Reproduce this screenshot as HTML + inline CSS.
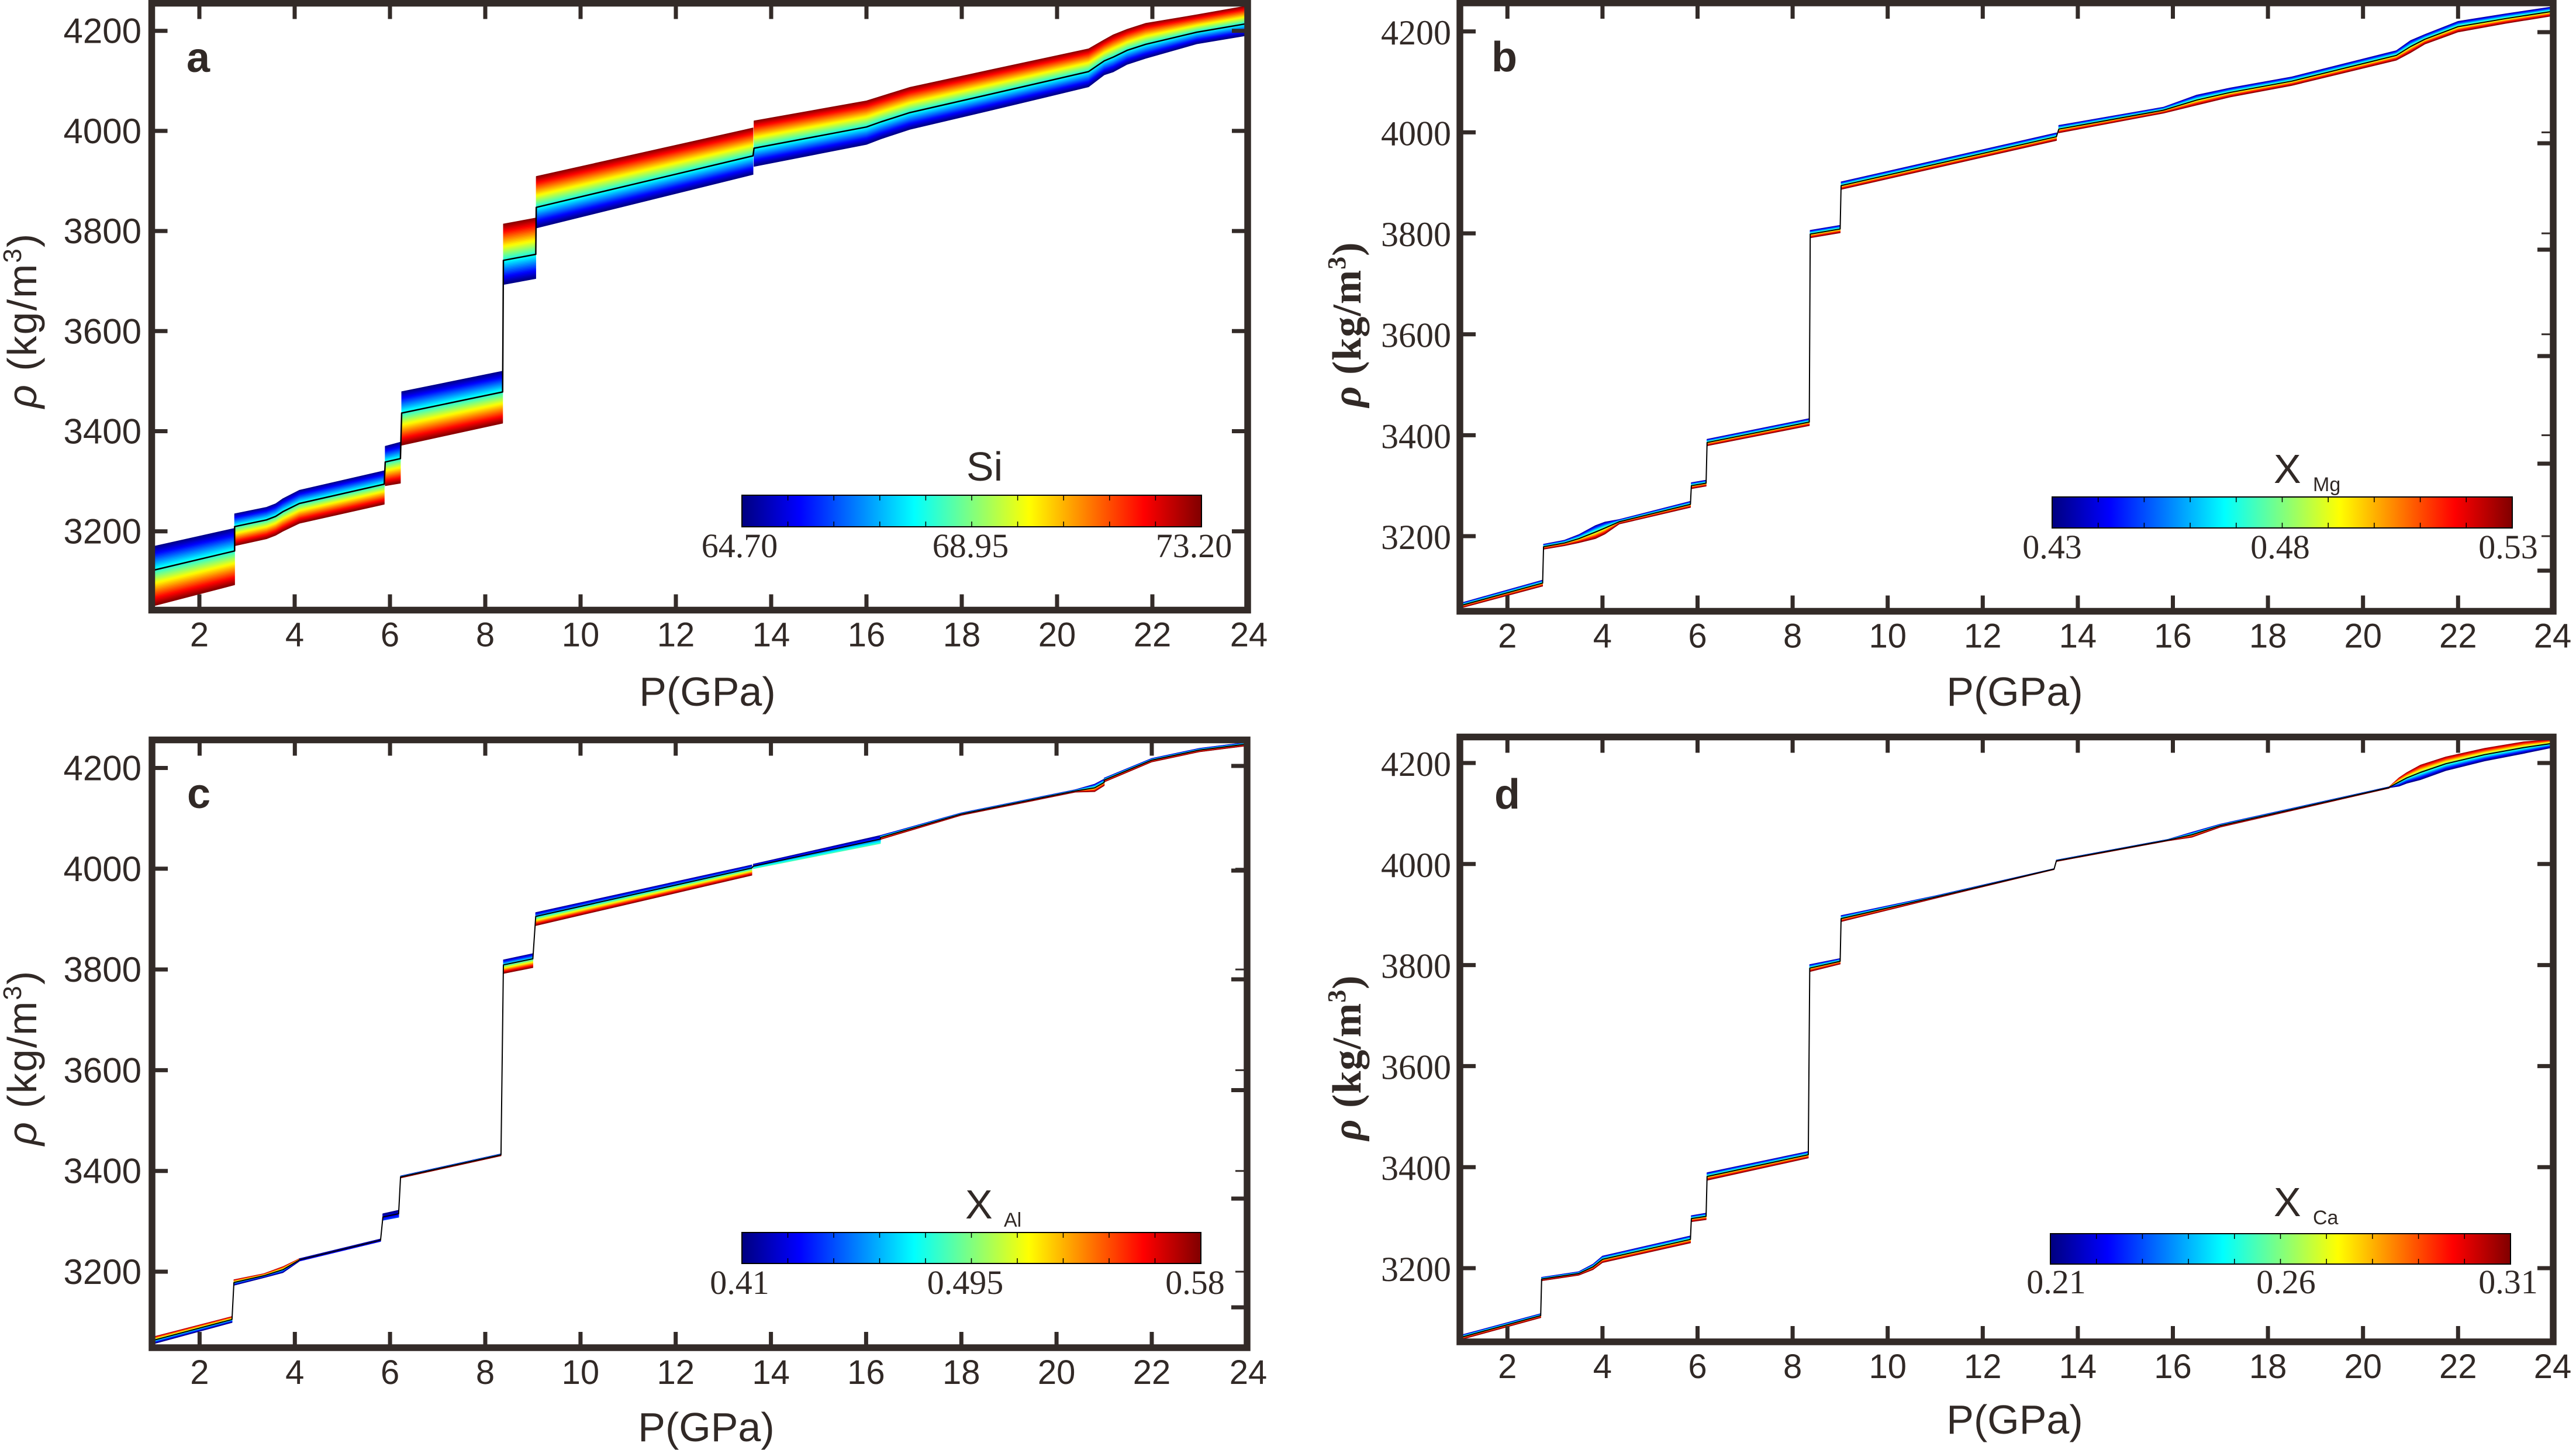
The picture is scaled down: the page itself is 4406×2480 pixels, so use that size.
<!DOCTYPE html>
<html><head><meta charset="utf-8">
<style>
html,body{margin:0;padding:0;background:#fff;}
svg{display:block;}
.ax{font-family:"Liberation Sans",Arial,sans-serif;fill:#312926;}
.sr{font-family:"Liberation Serif","Times New Roman",serif;fill:#312926;}
.fr{fill:none;stroke:#332b28;stroke-width:11.5;}
.tk{fill:none;stroke:#332b28;stroke-width:7;}
.tn{fill:none;stroke:#332b28;stroke-width:3;}
</style></head><body>
<svg id="s" width="4406" height="2480" viewBox="0 0 4406 2480" xmlns="http://www.w3.org/2000/svg">
<defs>
<linearGradient id="jet" x1="0" x2="1" y1="0" y2="0">
<stop offset="0" stop-color="#000080"/>
<stop offset="0.125" stop-color="#0000ff"/>
<stop offset="0.375" stop-color="#00ffff"/>
<stop offset="0.625" stop-color="#ffff00"/>
<stop offset="0.875" stop-color="#ff0000"/>
<stop offset="1" stop-color="#800000"/>
</linearGradient>
</defs>
<rect width="4406" height="2480" fill="#fff"/>
<g id="data"></g>

<!-- Frames -->
<rect class="fr" x="259.5" y="5.5" width="1874.5" height="1038"/>
<rect class="fr" x="2497" y="5" width="1870" height="1040.5"/>
<rect class="fr" x="260" y="1265.5" width="1873" height="1039.5"/>
<rect class="fr" x="2497" y="1260.5" width="1870" height="1034.5"/>

<!-- Ticks panel a -->
<path class="tk" d="M341 5.5V32.5M504 5.5V32.5M667 5.5V32.5M830 5.5V32.5M993 5.5V32.5M1156 5.5V32.5M1319 5.5V32.5M1482 5.5V32.5M1645 5.5V32.5M1808 5.5V32.5M1971 5.5V32.5
M341 1043.5V1016.5M504 1043.5V1016.5M667 1043.5V1016.5M830 1043.5V1016.5M993 1043.5V1016.5M1156 1043.5V1016.5M1319 1043.5V1016.5M1482 1043.5V1016.5M1645 1043.5V1016.5M1808 1043.5V1016.5M1971 1043.5V1016.5
M259.5 52.7H286.5M259.5 223.9H286.5M259.5 395.1H286.5M259.5 566.3H286.5M259.5 737.5H286.5M259.5 908.7H286.5
M2134 52.7H2107M2134 223.9H2107M2134 395.1H2107M2134 566.3H2107M2134 737.5H2107M2134 908.7H2107"/>
<!-- Ticks panel b -->
<path class="tk" d="M2578.3 5V32M2740.9 5V32M2903.5 5V32M3066.1 5V32M3228.7 5V32M3391.3 5V32M3553.9 5V32M3716.5 5V32M3879.1 5V32M4041.7 5V32M4204.3 5V32
M2578.3 1045.5V1018.5M2740.9 1045.5V1018.5M2903.5 1045.5V1018.5M3066.1 1045.5V1018.5M3228.7 1045.5V1018.5M3391.3 1045.5V1018.5M3553.9 1045.5V1018.5M3716.5 1045.5V1018.5M3879.1 1045.5V1018.5M4041.7 1045.5V1018.5M4204.3 1045.5V1018.5
M2497 53.8H2524M2497 226.4H2524M2497 399.1H2524M2497 571.7H2524M2497 744.4H2524M2497 917H2524
M4367 55H4340M4367 245H4340M4367 427H4340M4367 609H4340M4367 793H4340M4367 976H4340"/>
<path class="tn" d="M4367 226.4H4347M4367 399.1H4347M4367 571.7H4347M4367 744.4H4347M4367 917H4347"/>
<!-- Ticks panel c -->
<path class="tk" d="M341.4 1265.5V1292.5M504.3 1265.5V1292.5M667.1 1265.5V1292.5M830 1265.5V1292.5M992.9 1265.5V1292.5M1155.7 1265.5V1292.5M1318.6 1265.5V1292.5M1481.4 1265.5V1292.5M1644.3 1265.5V1292.5M1807.1 1265.5V1292.5M1970 1265.5V1292.5
M341.4 2305V2278M504.3 2305V2278M667.1 2305V2278M830 2305V2278M992.9 2305V2278M1155.7 2305V2278M1318.6 2305V2278M1481.4 2305V2278M1644.3 2305V2278M1807.1 2305V2278M1970 2305V2278
M260 1313.5H287M260 1485.8H287M260 1658.1H287M260 1830.4H287M260 2002.7H287M260 2175H287
M2133 1310H2106M2133 1489H2106M2133 1675H2106M2133 1864.5H2106M2133 2050H2106M2133 2236H2106"/>
<path class="tn" d="M2133 1485.8H2113M2133 1658.1H2113M2133 1830.4H2113M2133 2002.7H2113M2133 2175H2113"/>
<!-- Ticks panel d -->
<path class="tk" d="M2578.3 1260.5V1287.5M2740.9 1260.5V1287.5M2903.5 1260.5V1287.5M3066.1 1260.5V1287.5M3228.7 1260.5V1287.5M3391.3 1260.5V1287.5M3553.9 1260.5V1287.5M3716.5 1260.5V1287.5M3879.1 1260.5V1287.5M4041.7 1260.5V1287.5M4204.3 1260.5V1287.5
M2578.3 2295V2268M2740.9 2295V2268M2903.5 2295V2268M3066.1 2295V2268M3228.7 2295V2268M3391.3 2295V2268M3553.9 2295V2268M3716.5 2295V2268M3879.1 2295V2268M4041.7 2295V2268M4204.3 2295V2268
M2497 1305H2524M2497 1477.8H2524M2497 1650.6H2524M2497 1823.4H2524M2497 1996.2H2524M2497 2169H2524
M4367 1305H4340M4367 1477.8H4340M4367 1650.6H4340M4367 1823.4H4340M4367 1996.2H4340M4367 2169H4340"/>

<!-- Y tick labels -->
<g class="ax" font-size="60" text-anchor="end">
<text x="242" y="73.7">4200</text><text x="242" y="244.9">4000</text><text x="242" y="416.1">3800</text><text x="242" y="587.3">3600</text><text x="242" y="758.5">3400</text><text x="242" y="929.7">3200</text>
<text x="242" y="1334.5">4200</text><text x="242" y="1506.8">4000</text><text x="242" y="1679.1">3800</text><text x="242" y="1851.4">3600</text><text x="242" y="2023.7">3400</text><text x="242" y="2196">3200</text>
</g>
<g class="sr" font-size="60" text-anchor="end">
<text x="2482" y="75.8">4200</text><text x="2482" y="248.4">4000</text><text x="2482" y="421.1">3800</text><text x="2482" y="593.7">3600</text><text x="2482" y="766.4">3400</text><text x="2482" y="939">3200</text>
<text x="2482" y="1327">4200</text><text x="2482" y="1499.8">4000</text><text x="2482" y="1672.6">3800</text><text x="2482" y="1845.4">3600</text><text x="2482" y="2018.2">3400</text><text x="2482" y="2191">3200</text>
</g>

<!-- X tick labels -->
<g class="ax" font-size="58" text-anchor="middle">
<text x="341" y="1105.5">2</text><text x="504" y="1105.5">4</text><text x="667" y="1105.5">6</text><text x="830" y="1105.5">8</text><text x="993" y="1105.5">10</text><text x="1156" y="1105.5">12</text><text x="1319" y="1105.5">14</text><text x="1482" y="1105.5">16</text><text x="1645" y="1105.5">18</text><text x="1808" y="1105.5">20</text><text x="1971" y="1105.5">22</text><text x="2136" y="1105.5">24</text>
<text x="2578.3" y="1107.5">2</text><text x="2740.9" y="1107.5">4</text><text x="2903.5" y="1107.5">6</text><text x="3066.1" y="1107.5">8</text><text x="3228.7" y="1107.5">10</text><text x="3391.3" y="1107.5">12</text><text x="3553.9" y="1107.5">14</text><text x="3716.5" y="1107.5">16</text><text x="3879.1" y="1107.5">18</text><text x="4041.7" y="1107.5">20</text><text x="4204.3" y="1107.5">22</text><text x="4366" y="1107.5">24</text>
<text x="341.4" y="2367">2</text><text x="504.3" y="2367">4</text><text x="667.1" y="2367">6</text><text x="830" y="2367">8</text><text x="992.9" y="2367">10</text><text x="1155.7" y="2367">12</text><text x="1318.6" y="2367">14</text><text x="1481.4" y="2367">16</text><text x="1644.3" y="2367">18</text><text x="1807.1" y="2367">20</text><text x="1970" y="2367">22</text><text x="2135" y="2367">24</text>
<text x="2578.3" y="2357">2</text><text x="2740.9" y="2357">4</text><text x="2903.5" y="2357">6</text><text x="3066.1" y="2357">8</text><text x="3228.7" y="2357">10</text><text x="3391.3" y="2357">12</text><text x="3553.9" y="2357">14</text><text x="3716.5" y="2357">16</text><text x="3879.1" y="2357">18</text><text x="4041.7" y="2357">20</text><text x="4204.3" y="2357">22</text><text x="4366" y="2357">24</text>
</g>

<!-- X axis titles -->
<g class="ax" font-size="70" text-anchor="middle">
<text x="1210" y="1207">P(GPa)</text>
<text x="3446" y="1207">P(GPa)</text>
<text x="1208" y="2465">P(GPa)</text>
<text x="3446" y="2452">P(GPa)</text>
</g>

<!-- Y axis titles -->
<text class="ax" font-size="70" letter-spacing="2" text-anchor="middle" transform="translate(62,548) rotate(-90)"><tspan font-style="italic">ρ</tspan> (kg/m<tspan font-size="44" dy="-26">3</tspan><tspan dy="26">)</tspan></text>
<text class="ax" font-size="70" letter-spacing="2" text-anchor="middle" transform="translate(62,1809) rotate(-90)"><tspan font-style="italic">ρ</tspan> (kg/m<tspan font-size="44" dy="-26">3</tspan><tspan dy="26">)</tspan></text>
<text class="sr" font-size="70" font-weight="bold" letter-spacing="1" text-anchor="middle" transform="translate(2327,555) rotate(-90)"><tspan font-style="italic">ρ</tspan> (kg/m<tspan font-size="44" dy="-26">3</tspan><tspan dy="26">)</tspan></text>
<text class="sr" font-size="70" font-weight="bold" letter-spacing="1" text-anchor="middle" transform="translate(2327,1809) rotate(-90)"><tspan font-style="italic">ρ</tspan> (kg/m<tspan font-size="44" dy="-26">3</tspan><tspan dy="26">)</tspan></text>

<!-- Panel letters -->
<g class="ax" font-size="72" font-weight="bold">
<text x="319" y="123">a</text>
<text x="2551" y="122">b</text>
<text x="320" y="1382">c</text>
<text x="2556" y="1383">d</text>
</g>

<!-- Colorbars -->
<rect x="1269" y="847" width="786" height="54" fill="url(#jet)" stroke="#000" stroke-width="2"/>
<rect x="3510" y="850" width="787" height="53" fill="url(#jet)" stroke="#000" stroke-width="2"/>
<rect x="1269" y="2108" width="785" height="53" fill="url(#jet)" stroke="#000" stroke-width="2"/>
<rect x="3507" y="2110" width="787" height="52" fill="url(#jet)" stroke="#000" stroke-width="2"/>
<g id="cbt"></g>

<g class="ax" font-size="70">
<text x="1684" y="822" text-anchor="middle">Si</text>
<text x="3889" y="826">X</text><text x="3956" y="840" font-size="34">Mg</text>
<text x="1651" y="2084">X</text><text x="1717" y="2098" font-size="34">Al</text>
<text x="3889" y="2080">X</text><text x="3956" y="2094" font-size="34">Ca</text>
</g>
<g class="sr" font-size="58" text-anchor="middle">
<text x="1265" y="953">64.70</text><text x="1660" y="953">68.95</text><text x="2042" y="953">73.20</text>
<text x="3510" y="955">0.43</text><text x="3900" y="955">0.48</text><text x="4290" y="955">0.53</text>
<text x="1265" y="2213">0.41</text><text x="1651" y="2213">0.495</text><text x="2044" y="2213">0.58</text>
<text x="3517" y="2212">0.21</text><text x="3910" y="2212">0.26</text><text x="4290" y="2212">0.31</text>
</g>
</svg>
<script>
(function(){
function jet(t){
  var c=function(v){return Math.round(255*Math.max(0,Math.min(1,v)));};
  return 'rgb('+c(Math.min(4*t-1.5,-4*t+4.5))+','+c(Math.min(4*t-0.5,-4*t+3.5))+','+c(Math.min(4*t+0.5,-4*t+2.5))+')';
}
var g=document.getElementById('data');
function draw(m,segs,cf,cw){
  var X=function(p){return (m.x0+(p-1)*m.sx).toFixed(1);};
  var Y=function(r){return (m.y0+(4200-r)*m.sy).toFixed(1);};
  var center=[],html='';
  segs.forEach(function(s){
    var tt=s.t?s.t[0]:0,tb=s.t?s.t[1]:1,N=40;
    for(var i=0;i<N;i++){
      var f0=i/N,f1=(i+1)/N,t=tt+(tb-tt)*(f0+f1)/2;
      var up=s.p.map(function(q){return X(q[0])+','+Y(q[1]+(q[2]-q[1])*f0);});
      var lo=s.p.slice().reverse().map(function(q){return X(q[0])+','+Y(q[1]+(q[2]-q[1])*f1);});
      var col=jet(t);
      html+='<path d="M'+up.join('L')+'L'+lo.join('L')+'Z" fill="'+col+'" stroke="'+col+'" stroke-width="1"/>';
    }
    var f;
    if(s.f!==undefined){f=s.f;}
    else{var c=(s.c!==undefined)?s.c:cf; f=(c-tt)/(tb-tt); f=Math.max(0,Math.min(1,f));}
    s.p.forEach(function(q){center.push(X(q[0])+','+Y(q[1]+(q[2]-q[1])*f));});
  });
  html+='<polyline points="'+center.join(' ')+'" fill="none" stroke="#000" stroke-width="'+cw+'" stroke-linejoin="round"/>';
  g.insertAdjacentHTML('beforeend',html);
}
var A={x0:259.5,sx:81.5,y0:52.7,sy:0.856};
var B={x0:2497,sx:81.3,y0:53.8,sy:0.8632};
var C={x0:260,sx:81.43,y0:1313.5,sy:0.8615};
var D={x0:2497,sx:81.3,y0:1305,sy:0.864};

draw(A,[
{p:[[1,3169,3050],[2.74,3206,3093]]},
{p:[[2.74,3235,3171],[3.41,3248,3185],[3.6,3255,3192],[3.75,3265,3200],[4.1,3282,3216],[5.88,3321,3254]]},
{p:[[5.9,3370,3291],[6.22,3378,3296]]},
{p:[[6.245,3479,3372],[8.365,3520,3416]]},
{p:[[8.38,3814,3693],[9.06,3826,3705]],t:[1,0]},
{p:[[9.07,3909,3806],[13.62,4006,3913]],t:[1,0]},
{p:[[13.64,4020,3929],[16.0,4060,3973],[16.3,4069,3984],[16.91,4087,4003],[18.56,4121,4040],[20.66,4164,4088],[20.99,4182,4112],[21.18,4192,4118],[21.47,4203,4133],[21.86,4215,4145],[22.93,4232,4174],[24,4250,4191]],t:[1,0]}
],0.4,2.5);

draw(B,[
{p:[[1,3067,3057],[2.74,3113,3101]]},
{p:[[2.76,3184,3174],[3.2,3192,3181],[3.5,3203,3187],[3.85,3221,3195],[4.05,3228,3204],[4.35,3233,3224],[5.85,3269,3257]]},
{p:[[5.87,3306,3294],[6.18,3311,3299]]},
{p:[[6.2,3392,3379],[8.35,3433,3419]]},
{p:[[8.37,3806,3791],[9.0,3816,3801]]},
{p:[[9.02,3902,3887],[13.55,3999,3984]]},
{p:[[13.6,4014,3999],[15.8,4050,4038],[16.5,4074,4054],[17.2,4088,4070],[18.5,4110,4093],[20.7,4162,4143],[21.0,4182,4158],[21.3,4194,4175],[22,4220,4199],[23,4235,4216],[24,4249,4231]]}
],0.5,2);

draw(C,[
{p:[[1,3070,3056],[2.68,3111,3099]],t:[1,0]},
{p:[[2.72,3184,3173],[3.35,3196,3188],[3.75,3210,3198],[4.1,3226,3221]],t:[1,0]},
{p:[[4.1,3226,3221],[5.8,3265,3260]],t:[0.02,0.12],f:0.5},
{p:[[5.85,3315,3302],[6.18,3322,3308]],t:[0,0.18],f:0.5},
{p:[[6.22,3390,3386],[8.33,3434,3430]]},
{p:[[8.38,3819,3792],[9.0,3831.5,3803.6]],c:0.37},
{p:[[9.06,3913,3887],[13.6,4007.5,3987]],c:0.3},
{p:[[13.63,4009,4000],[16.3,4066,4050]],t:[0,0.45],f:0.45},
{p:[[16.3,4066,4058],[18,4111,4106],[20.4,4157,4152]]},
{p:[[20.4,4157,4152],[20.8,4168,4153],[21.0,4178,4165]]},
{p:[[21.0,4180,4172],[22,4219,4212],[23,4239,4232],[24,4251,4244]]}
],0.5,2);

draw(D,[
{p:[[1,3067,3058],[2.7,3110,3102]]},
{p:[[2.72,3182,3175],[3.5,3193,3186],[3.8,3208,3197],[4.0,3224,3211],[5.85,3264,3250]]},
{p:[[5.87,3304,3292],[6.18,3309,3296]]},
{p:[[6.2,3389,3374],[8.33,3431,3418]]},
{p:[[8.36,3801,3787],[9.0,3813,3802]]},
{p:[[9.02,3898,3886],[11,3937,3932],[13.5,3991,3989]]},
{p:[[13.55,4008,4005],[15.9,4049,4046],[16.4,4063,4053],[17,4079,4073],[20.55,4153,4150]]},
{p:[[20.55,4153,4151],[20.76,4171,4154],[20.92,4181,4160],[21.21,4196,4167],[21.74,4212,4185],[22.56,4229,4204],[23.38,4242,4219],[24,4247,4231]],t:[1,0]}
],0.5,2);

// colorbar internal ticks
var cb=[[1269,847,786,54],[3510,850,787,53],[1269,2108,785,53],[3507,2110,787,52]];
var h='';
cb.forEach(function(b){
  var d='';
  for(var i=1;i<10;i++){
    var x=(b[0]+b[2]*i/10).toFixed(1);
    d+='M'+x+' '+b[1]+'v9M'+x+' '+(b[1]+b[3])+'v-9';
  }
  h+='<path d="'+d+'" stroke="#000" stroke-width="1.5" fill="none"/>';
});
document.getElementById('cbt').insertAdjacentHTML('beforeend',h);
})();
</script>
</body></html>
